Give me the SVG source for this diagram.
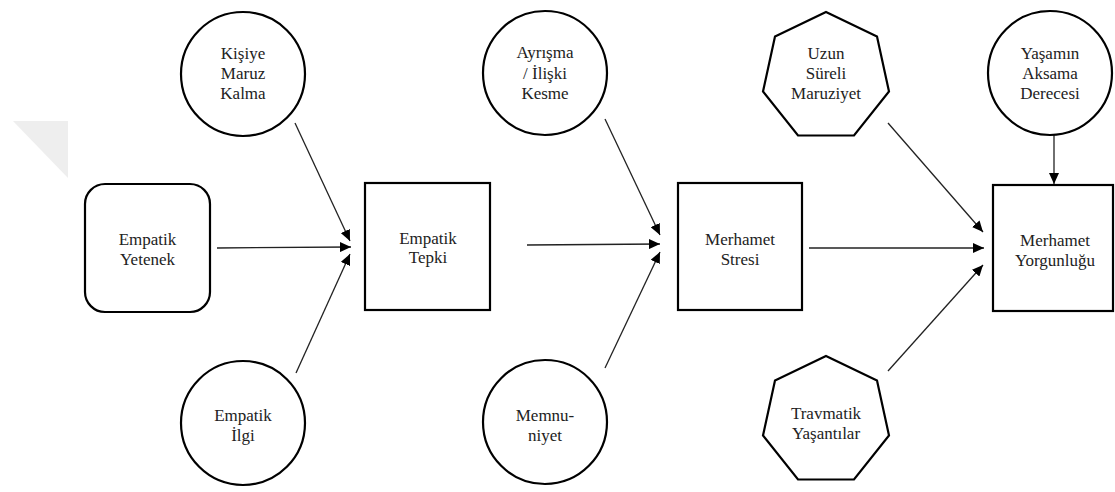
<svg xmlns="http://www.w3.org/2000/svg" width="1115" height="492" viewBox="0 0 1115 492">
<defs>
<style>
.shape{fill:#ffffff;stroke:#000000;stroke-width:2.2}
.lbl{font-family:'Liberation Serif','DejaVu Serif','Times New Roman',serif;font-size:17px;fill:#222222;text-anchor:middle}
.con{stroke:#222222;stroke-width:1.3;fill:none;marker-end:url(#ah)}
</style>
<marker id="ah" markerUnits="userSpaceOnUse" markerWidth="12" markerHeight="10" refX="11" refY="5" orient="auto">
<path d="M0,0 L11,5 L0,10 Z" fill="#000000"/>
</marker>
</defs>
<rect width="1115" height="492" fill="#ffffff"/>
<polygon points="13,121 68,121 68,178" fill="#eeeeee"/>

<g id="connectors">
<line class="con" x1="217" y1="248" x2="351" y2="247"/>
<line class="con" x1="295" y1="123" x2="350" y2="241"/>
<line class="con" x1="296" y1="373" x2="350" y2="254"/>
<line class="con" x1="527" y1="245" x2="660" y2="244"/>
<line class="con" x1="605" y1="119" x2="660" y2="235"/>
<line class="con" x1="605" y1="368" x2="660" y2="252"/>
<line class="con" x1="809" y1="248" x2="984" y2="248"/>
<line class="con" x1="888" y1="123" x2="983" y2="232"/>
<line class="con" x1="888" y1="371" x2="983" y2="265"/>
<line class="con" x1="1054" y1="135" x2="1054" y2="184"/>
</g>

<g font-family="Liberation Serif, DejaVu Serif, serif">
<g id="empatik-yetenek">
<rect class="shape" x="85" y="184" width="125" height="128" rx="20" ry="20"/>
<text class="lbl" x="147.5" y="245">Empatik</text>
<text class="lbl" x="147.5" y="265">Yetenek</text>
</g>

<g id="kisiye-maruz-kalma">
<circle class="shape" cx="243" cy="74" r="62"/>
<text class="lbl" x="243" y="59">Kişiye</text>
<text class="lbl" x="243" y="79">Maruz</text>
<text class="lbl" x="243" y="99">Kalma</text>
</g>

<g id="empatik-ilgi">
<circle class="shape" cx="243" cy="423" r="62"/>
<text class="lbl" x="243" y="421">Empatik</text>
<text class="lbl" x="243" y="441">İlgi</text>
</g>

<g id="empatik-tepki">
<rect class="shape" x="365" y="183" width="125" height="127"/>
<text class="lbl" x="428" y="244">Empatik</text>
<text class="lbl" x="428" y="263">Tepki</text>
</g>

<g id="ayrisma">
<circle class="shape" cx="545" cy="73" r="62"/>
<text class="lbl" x="545" y="58">Ayrışma</text>
<text class="lbl" x="545" y="79">/ İlişki</text>
<text class="lbl" x="545" y="99">Kesme</text>
</g>

<g id="memnuniyet">
<circle class="shape" cx="545" cy="422" r="62"/>
<text class="lbl" x="545" y="421">Memnu-</text>
<text class="lbl" x="545" y="441">niyet</text>
</g>

<g id="merhamet-stresi">
<rect class="shape" x="678" y="183" width="124" height="127"/>
<text class="lbl" x="740" y="245">Merhamet</text>
<text class="lbl" x="740" y="265">Stresi</text>
</g>

<g id="uzun-sureli-maruziyet">
<polygon class="shape" points="826,12 877,36.5 889,91.5 854,135.5 798,135.5 763,91.5 775,36.5"/>
<text class="lbl" x="826" y="59">Uzun</text>
<text class="lbl" x="826" y="79">Süreli</text>
<text class="lbl" x="826" y="99">Maruziyet</text>
</g>

<g id="travmatik-yasantilar">
<polygon class="shape" points="826,356 877,380.5 889,435.5 854,479.5 798,479.5 763,435.5 775,380.5"/>
<text class="lbl" x="826" y="419">Travmatik</text>
<text class="lbl" x="826" y="439">Yaşantılar</text>
</g>

<g id="yasamin-aksama-derecesi">
<circle class="shape" cx="1050" cy="73" r="62"/>
<text class="lbl" x="1050" y="59">Yaşamın</text>
<text class="lbl" x="1050" y="79">Aksama</text>
<text class="lbl" x="1050" y="99">Derecesi</text>
</g>

<g id="merhamet-yorgunlugu">
<rect class="shape" x="993" y="185" width="120" height="126"/>
<text class="lbl" x="1055" y="246">Merhamet</text>
<text class="lbl" x="1055" y="266">Yorgunluğu</text>
</g>
</g>
</svg>
